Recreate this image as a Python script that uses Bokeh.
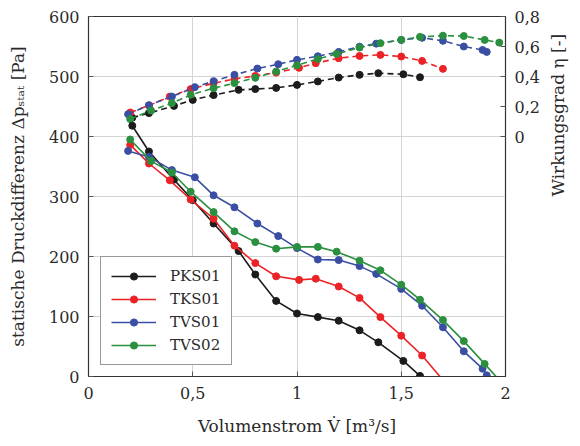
import math
from bokeh.plotting import figure
from bokeh.models import Range1d, LinearAxis, FixedTicker, Legend, LegendItem
from bokeh.embed import file_html
from bokeh.resources import INLINE

# ---- data ----
pks_x = [0.21, 0.29, 0.41, 0.50, 0.60, 0.72, 0.80, 0.90, 1.00, 1.10, 1.20, 1.30, 1.39, 1.51, 1.59]
pks_p = [418, 375, 328, 294, 255, 209, 170, 126, 105, 99, 93, 77, 57, 26, 1]
pks_eta = [0.125, 0.156, 0.204, 0.244, 0.276, 0.311, 0.316, 0.324, 0.344, 0.367, 0.393, 0.411, 0.422, 0.415, 0.395]

tks_x = [0.20, 0.29, 0.39, 0.49, 0.60, 0.70, 0.80, 0.90, 1.01, 1.09, 1.20, 1.30, 1.40, 1.50, 1.60, 1.70]
tks_p = [386, 355, 327, 295, 263, 218, 189, 167, 161, 163, 150, 131, 99, 68, 35, -6]
tks_eta = [0.160, 0.207, 0.266, 0.316, 0.355, 0.384, 0.404, 0.426, 0.458, 0.489, 0.522, 0.537, 0.544, 0.533, 0.504, 0.451]

tvs1_x = [0.19, 0.29, 0.40, 0.51, 0.60, 0.70, 0.81, 0.91, 1.00, 1.10, 1.20, 1.30, 1.38, 1.50, 1.60, 1.70, 1.80, 1.89, 1.91]
tvs1_p = [376, 366, 344, 332, 302, 282, 255, 234, 214, 195, 194, 184, 171, 146, 118, 82, 42, 13, 2]
tvs1_eta = [0.149, 0.209, 0.266, 0.329, 0.369, 0.411, 0.453, 0.482, 0.511, 0.535, 0.564, 0.599, 0.619, 0.644, 0.658, 0.638, 0.600, 0.577, 0.564]

tvs2_x = [0.20, 0.30, 0.40, 0.49, 0.60, 0.70, 0.80, 0.90, 1.00, 1.10, 1.19, 1.30, 1.40, 1.50, 1.59, 1.70, 1.80, 1.90, 1.97]
tvs2_p = [395, 359, 340, 308, 274, 242, 224, 213, 216, 216, 208, 193, 177, 153, 128, 94, 59, 21, -6]
tvs2_eta = [0.116, 0.173, 0.222, 0.278, 0.322, 0.356, 0.391, 0.433, 0.475, 0.517, 0.551, 0.593, 0.622, 0.644, 0.664, 0.672, 0.670, 0.644, 0.626]

series = [
    ("PKS01", pks_x, pks_p, pks_eta, "#1c1c1c"),
    ("TKS01", tks_x, tks_p, tks_eta, "#ec2326"),
    ("TVS01", tvs1_x, tvs1_p, tvs1_eta, "#3a4fa3"),
    ("TVS02", tvs2_x, tvs2_p, tvs2_eta, "#2a8f3f"),
]

x_ticks = [0, 0.5, 1, 1.5, 2]
x_labels = ["0", "0,5", "1", "1,5", "2"]
p_ticks = [0, 100, 200, 300, 400, 500, 600]
eta_ticks = [0, 0.2, 0.4, 0.6, 0.8]
eta_labels = ["0", "0,2", "0,4", "0,6", "0,8"]

FONT = "DejaVu Serif"
TICK_FS = "16px"
LABEL_FS = "17px"
LEG_FS = "15px"
TXT = "#2a2a2a"

p = figure(width=580, height=446, x_range=Range1d(0, 2), y_range=Range1d(0, 600),
           output_backend="svg", toolbar_location=None,
           min_border_left=88, min_border_right=74, min_border_top=16, min_border_bottom=70)
p.extra_y_ranges = {"eta": Range1d(-1.6, 0.8), "lab": Range1d(0, 1)}

p.outline_line_color = "#333333"
p.outline_line_width = 1.2
p.background_fill_color = "white"
p.border_fill_color = "white"

p.xgrid.ticker = FixedTicker(ticks=x_ticks)
p.ygrid.ticker = FixedTicker(ticks=p_ticks)
for g in (p.xgrid, p.ygrid):
    g.grid_line_color = "#d4d4d4"
    g.grid_line_width = 1

def style_axis(ax):
    ax.major_label_text_font = FONT
    ax.major_label_text_font_size = TICK_FS
    ax.major_label_text_color = TXT
    ax.axis_label_text_font = FONT
    ax.axis_label_text_font_size = LABEL_FS
    ax.axis_label_text_font_style = "normal"
    ax.axis_label_text_color = TXT
    ax.axis_line_color = "#333333"
    ax.major_tick_in = 5
    ax.major_tick_out = 0
    ax.minor_tick_line_color = None
    ax.major_tick_line_color = "#555555"

xa = p.xaxis[0]
style_axis(xa)
xa.ticker = FixedTicker(ticks=x_ticks)
xa.major_label_overrides = {t: l for t, l in zip(x_ticks, x_labels)}
xa.axis_label = "Volumenstrom V\u0307 [m\u00b3/s]"
xa.major_label_standoff = 10
xa.axis_label_standoff = 14

ya = p.yaxis[0]
style_axis(ya)
ya.ticker = FixedTicker(ticks=p_ticks)
ya.axis_label = "statische Druckdifferenz \u0394p\u209b\u209c\u2090\u209c [Pa]"
ya.major_label_standoff = 9
ya.axis_label_standoff = 18

ra = LinearAxis(y_range_name="eta")
style_axis(ra)
ra.ticker = FixedTicker(ticks=eta_ticks)
ra.major_label_overrides = {t: l for t, l in zip(eta_ticks, eta_labels)}
ra.major_label_standoff = 9
p.add_layout(ra, "right")

# separate, line-less axis that only carries the right-hand title
la = LinearAxis(y_range_name="lab")
style_axis(la)
la.ticker = FixedTicker(ticks=[])
la.axis_line_color = None
la.major_tick_line_color = None
la.major_tick_in = 0
la.major_label_standoff = 0
la.bounds = (0, 0.515)
la.axis_label = "Wirkungsgrad \u03b7 [-]"
la.axis_label_standoff = 15
try:
    la.axis_label_orientation = math.pi / 2
except Exception:
    pass
p.add_layout(la, "right")

items = []
for name, xs, ps, etas, col in series:
    n = len(etas)
    p.line(xs[:n], etas, y_range_name="eta", line_color=col, line_width=1.6, line_dash="6 4")
    p.scatter(xs[:n], etas, y_range_name="eta", marker="circle", size=7, fill_color=col, line_color=col)

for name, xs, ps, etas, col in series:
    lr = p.line(xs, ps, line_color=col, line_width=1.6)
    sr = p.scatter(xs, ps, marker="circle", size=7, fill_color=col, line_color=col)
    items.append(LegendItem(label=name, renderers=[lr, sr]))

legend = Legend(items=items, location=(12, 11))
legend.label_text_font = FONT
legend.label_text_font_size = LEG_FS
legend.label_text_color = TXT
legend.glyph_width = 45
legend.glyph_height = 18
legend.label_height = 18
legend.label_standoff = 14
legend.spacing = 5
legend.padding = 10
legend.margin = 0
legend.border_line_color = "#333333"
legend.border_line_width = 1
legend.background_fill_alpha = 1
p.add_layout(legend, "center")

open("out.html", "w").write(file_html(p, INLINE))
